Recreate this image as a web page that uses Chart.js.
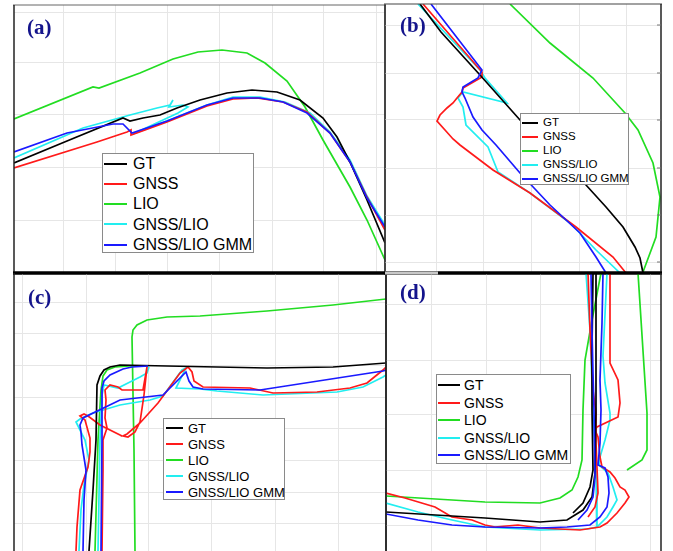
<!DOCTYPE html>
<html><head><meta charset="utf-8">
<script src="https://cdn.jsdelivr.net/npm/chart.js@4.4.1/dist/chart.umd.min.js"></script>
<style>
body{margin:0;background:#fff;}
#wrap{position:relative;width:673px;height:551px;overflow:hidden;background:#fff;font-family:"Liberation Sans",Arial,sans-serif;}
#wrap canvas{position:absolute;}
.lg{position:absolute;background:#fff;border:1px solid #8a8a8a;box-sizing:border-box;}
.lg .ln{position:absolute;height:2px;}
.lg .tx{position:absolute;white-space:nowrap;line-height:1;color:#000;}
.lab{position:absolute;font-family:"Liberation Serif","Times New Roman",serif;font-weight:bold;color:#14148c;line-height:1;}
</style></head>
<body><div id="wrap"></div>
<script>
// ---- series names / colours ----
const seriesNames = ['GT','GNSS','LIO','GNSS/LIO','GNSS/LIO GMM'];
const seriesColors = ['#000000','#ff1a1a','#22dd22','#22eef0','#1a1aff'];

// ---- panel (a) ----
const aGT = [[0,110],[53,132],[109,155],[116,152],[129,155],[146,158],[163,165],[186,173],[213,180],[238,183],[263,181],[286,173],[309,155],[323,136],[336,111],[353,73],[371,30]];
const aGNSS = [[0,105],[83,131],[113,141],[117,143],[117,138],[153,151],[193,167],[219,174],[243,175],[269,171],[293,161],[316,140],[336,111],[353,76],[371,43]];
const aLIO = [[0,154],[79,186],[85,185],[126,200],[159,214],[184,221],[208,223],[233,220],[251,210],[273,192],[291,166],[309,133],[336,86],[353,53],[371,13]];
const aGNSSLIO = [[0,115],[69,145],[116,158],[143,165],[156,168],[159,173],[155,166],[169,168],[174,166],[164,160],[119,139],[153,152],[193,168],[219,176],[246,176],[271,171],[296,160],[316,141],[336,113],[353,77],[371,48]];
const aGMM = [[0,121],[53,140],[99,149],[109,149],[118,140],[153,152],[193,168],[219,175],[246,175],[269,171],[293,160],[316,140],[336,111],[353,75],[371,46]];
const aGridX = [49,101,153,205,258,309,362];
const aGridY = [53,106,158,210,261];

// ---- panel (b) ----
const bGT = [[35,269],[56,241],[95,198],[135,153],[201,88],[221,66],[238,46],[250,26],[255,15],[258,0]];
const bGNSS = [[38,269],[97,201],[97,196],[78,185],[77,181],[72,175],[68,170],[62,165],[55,158],[52,152],[60,143],[68,134],[75,128],[108,103],[145,80],[191,46],[228,16],[241,0]];
const bLIO = [[125,269],[165,230],[208,195],[240,160],[253,143],[268,110],[275,76],[271,36],[258,1]];
const bGNSSLIO = [[33,269],[95,203],[100,195],[122,170],[78,181],[73,175],[78,166],[81,148],[103,126],[113,101],[145,80],[185,50],[211,23],[235,0]];
const bGMM = [[46,269],[97,203],[93,195],[78,186],[77,181],[80,175],[88,156],[97,143],[111,128],[135,100],[165,68],[195,40],[211,16],[221,0]];
const bGridX = [51,98,146,194,241];
const bGridY = [11,58,105,153,200,248];

// ---- panel (c) ----
const cGT = [[75,0],[79,61],[82,111],[83,166],[86,175],[90,181],[96,184],[106,186],[153,185],[253,183],[319,184],[372,188]];
const cGNSS1 = [[62,0],[63,24],[66,61],[74,84],[76,99],[76,113],[71,131],[66,135],[70,137],[74,135],[86,126],[92,123],[108,115]];
const cGNSS2 = [[88,0],[89,81],[89,111],[93,123],[91,133],[92,151],[91,161],[96,166],[104,164],[108,161],[129,161],[133,184],[130,156],[126,129],[121,119],[114,114],[109,115],[113,117],[126,128],[144,148],[166,178],[174,184],[178,179],[180,170],[189,164],[236,163],[259,158],[303,159],[336,163],[353,168],[369,181],[372,184]];
const cLIO1 = [[121,0],[120,101],[118,214],[119,221],[123,226],[133,231],[153,234],[186,235],[253,240],[319,246],[372,252]];
const cLIO2 = [[81,0],[84,111],[87,161],[89,175],[93,181],[101,184],[116,185],[134,185]];
const cGNSSLIO1 = [[65,0],[67,41],[70,66],[75,91],[71,111],[66,121],[62,129],[66,132],[79,138],[106,146],[136,151],[149,155],[168,181],[172,183],[162,163],[186,162],[203,160],[249,156],[323,159],[349,164],[369,174],[372,176]];
const cGNSSLIO2 = [[84,0],[86,111],[88,156],[90,166],[104,163],[114,168],[126,174],[133,178],[135,184]];
const cGMM1 = [[69,0],[70,51],[72,81],[68,106],[67,119],[66,126],[69,133],[106,151],[149,156],[172,179],[175,170],[179,164],[189,162],[246,161],[369,180],[372,181]];
const cGMM2 = [[87,0],[88,111],[88,163],[90,170],[96,176],[109,182],[118,184],[134,185]];
const cGridX = [8,72,134,197,261,324];
const cGridY = [28,59,91,123,154,186,218,249];

// ---- panel (d) ----
const dGT1 = [[207,278],[206,200],[206,141],[207,81],[204,64],[197,48],[187,38]];
const dGT2 = [[210,278],[210,141],[209,78],[206,54],[197,41],[181,31],[154,29],[99,33],[0,39]];
const dGNSS1 = [[224,278],[224,188],[232,171],[234,148],[232,134],[211,124],[209,121],[212,114],[214,94],[216,84],[224,79],[229,73],[234,64],[239,61],[243,54],[239,48],[231,38],[221,28],[214,24],[194,21],[154,23],[132,26],[109,24],[99,26],[86,31],[66,34],[49,44],[19,53],[0,58]];
const dGNSS2 = [[202,278],[204,221],[207,161],[210,138],[210,108],[212,58],[209,44],[202,34]];
const dLIO1 = [[215,278],[206,231],[199,191],[197,141],[196,91],[192,74],[186,61],[174,53],[154,48],[99,49],[0,55]];
const dLIO2 = [[252,278],[261,138],[261,101],[256,91],[241,81]];
const dGNSSLIO1 = [[221,278],[217,195],[219,168],[224,138],[224,131],[219,111],[214,94],[213,86],[222,78],[227,64],[231,51],[227,44],[221,34],[211,24],[201,22],[154,21],[99,24],[66,31],[32,39],[0,48]];
const dGNSSLIO2 = [[200,278],[204,221],[207,141],[210,81],[211,23]];
const dGMM1 = [[217,278],[216,228],[214,171],[215,141],[214,108],[212,86],[219,83],[222,74],[223,58],[221,44],[214,34],[204,26],[181,24],[154,23],[99,24],[66,26],[32,31],[0,37]];
const dGMM2 = [[205,278],[206,221],[207,178],[208,141],[209,74],[207,54],[201,41],[192,31]];
const dGridX = [45,100,154,209,264];
const dGridY = [26,81,136,191,246];

// ---- layout (not data) ----
const P = 4;
const drawOrder = [2,3,1,0,4]; // bottom -> top
const panels = [
  {label:'(a)', box:[14,5,385,273], gx:aGridX, gy:aGridY,
   series:[[aGT],[aGNSS],[aLIO],[aGNSSLIO],[aGMM]],
   frame:{top:[1,'#666'],right:[1.5,'#222'],bottom:[3,'#000'],left:[1.5,'#222']},
   legend:{x:102,y:153,w:152,h:100,fs:16,first:10.5,gap:20.3,lx:2,ll:23,tx:31},
   lab:{x:27,y:17,fs:21}},
  {label:'(b)', box:[385,4,661,273], gx:bGridX, gy:bGridY,
   series:[[bGT],[bGNSS],[bLIO],[bGNSSLIO],[bGMM]],
   frame:{top:[1.2,'#444'],right:[1.5,'#222'],bottom:[3,'#000'],left:[1,'#333'],rticks:true},
   legend:{x:520,y:113,w:109,h:72,fs:11.5,first:10,gap:14,lx:2,ll:16,tx:23},
   lab:{x:400,y:15,fs:21}},
  {label:'(c)', box:[14,273,386,551], gx:cGridX, gy:cGridY,
   series:[[cGT],[cGNSS1,cGNSS2],[cLIO1,cLIO2],[cGNSSLIO1,cGNSSLIO2],[cGMM1,cGMM2]],
   frame:{top:[3,'#000'],right:[1.5,'#222'],bottom:[0,'#000'],left:[1.5,'#222']},
   legend:{x:163,y:418,w:122,h:82,fs:13,first:10,gap:16,lx:3,ll:17,tx:25},
   lab:{x:28,y:287,fs:21}},
  {label:'(d)', box:[386,273,661,551], gx:dGridX, gy:dGridY,
   series:[[dGT1,dGT2],[dGNSS1,dGNSS2],[dLIO1,dLIO2],[dGNSSLIO1,dGNSSLIO2],[dGMM1,dGMM2]],
   frame:{top:[3,'#000'],right:[1.5,'#222'],bottom:[0,'#000'],left:[1.5,'#222'],grayTop:52},
   legend:{x:436,y:374,w:135,h:90,fs:14,first:11,gap:17.5,lx:2,ll:22,tx:28},
   lab:{x:400,y:282,fs:21}}
];

const framePlugin = {
  id:'frame',
  afterDraw(chart, args, o){
    const ctx = chart.ctx, a = chart.chartArea;
    ctx.save();
    const side = (s, x1,y1,x2,y2) => {
      if(!s || !s[0]) return;
      ctx.lineWidth = s[0]; ctx.strokeStyle = s[1];
      ctx.beginPath(); ctx.moveTo(x1,y1); ctx.lineTo(x2,y2); ctx.stroke();
    };
    side(o.top, a.left-1, a.top, a.right+1, a.top);
    side(o.bottom, a.left-1, a.bottom, a.right+1, a.bottom);
    side(o.left, a.left, a.top, a.left, a.bottom);
    side(o.right, a.right, a.top, a.right, a.bottom);
    if(o.grayTop){
      side([3,'#c8c8c8'], a.left-1, a.top, a.left+o.grayTop, a.top);
    }
    if(o.rticks){
      const ys = chart.scales.y;
      ctx.lineWidth = 1; ctx.strokeStyle = '#777';
      ys.ticks.forEach(t => {
        const py = ys.getPixelForValue(t.value);
        ctx.beginPath(); ctx.moveTo(a.right-4, py); ctx.lineTo(a.right, py); ctx.stroke();
      });
    }
    ctx.restore();
  }
};

const wrap = document.getElementById('wrap');
panels.forEach(p => {
  const [L,T,R,B] = p.box;
  const w = R-L, h = B-T;
  const cv = document.createElement('canvas');
  cv.width = w + 2*P; cv.height = h + 2*P;
  cv.style.left = (L-P)+'px'; cv.style.top = (T-P)+'px';
  cv.style.width = (w+2*P)+'px'; cv.style.height = (h+2*P)+'px';
  wrap.appendChild(cv);
  const datasets = [];
  drawOrder.forEach((si, rank) => {
    p.series[si].forEach(strand => {
      datasets.push({
        label: seriesNames[si],
        data: strand.map(v => ({x:v[0], y:v[1]})),
        showLine: true, pointRadius: 0, borderWidth: 1.7,
        borderColor: seriesColors[si], backgroundColor: seriesColors[si],
        fill:false, tension:0, order: 100 - rank
      });
    });
  });
  const gridOpt = {color:'#e6e6e6', lineWidth:1, drawTicks:false};
  new Chart(cv, {
    type:'scatter',
    data:{datasets},
    options:{
      responsive:false, animation:false, events:[],
      layout:{padding:P},
      plugins:{legend:{display:false}, tooltip:{enabled:false}, frame:p.frame},
      scales:{
        x:{type:'linear', min:0, max:w, ticks:{display:false}, grid:gridOpt, border:{display:false},
           afterBuildTicks: ax => { ax.ticks = p.gx.map(v => ({value:v})); }},
        y:{type:'linear', min:0, max:h, ticks:{display:false}, grid:gridOpt, border:{display:false},
           afterBuildTicks: ax => { ax.ticks = p.gy.map(v => ({value:v})); }}
      }
    },
    plugins:[framePlugin]
  });
});

// legends and panel labels (HTML text)
panels.forEach(p => {
  const g = p.legend;
  const box = document.createElement('div');
  box.className = 'lg';
  box.style.left = g.x+'px'; box.style.top = g.y+'px';
  box.style.width = g.w+'px'; box.style.height = g.h+'px';
  seriesNames.forEach((n, i) => {
    const cy = g.first + i*g.gap - 1;
    const ln = document.createElement('div');
    ln.className = 'ln';
    ln.style.left = (g.lx-1)+'px'; ln.style.width = g.ll+'px';
    ln.style.top = (cy-1)+'px'; ln.style.background = seriesColors[i];
    box.appendChild(ln);
    const tx = document.createElement('div');
    tx.className = 'tx';
    tx.style.fontSize = g.fs+'px';
    tx.style.left = (g.tx-1)+'px';
    tx.style.top = (cy - 0.49*g.fs)+'px';
    tx.textContent = n;
    box.appendChild(tx);
  });
  wrap.appendChild(box);
  const lb = document.createElement('div');
  lb.className = 'lab';
  lb.style.left = p.lab.x+'px'; lb.style.top = p.lab.y+'px';
  lb.style.fontSize = p.lab.fs+'px';
  lb.textContent = p.label;
  wrap.appendChild(lb);
});
</script>
</body></html>
